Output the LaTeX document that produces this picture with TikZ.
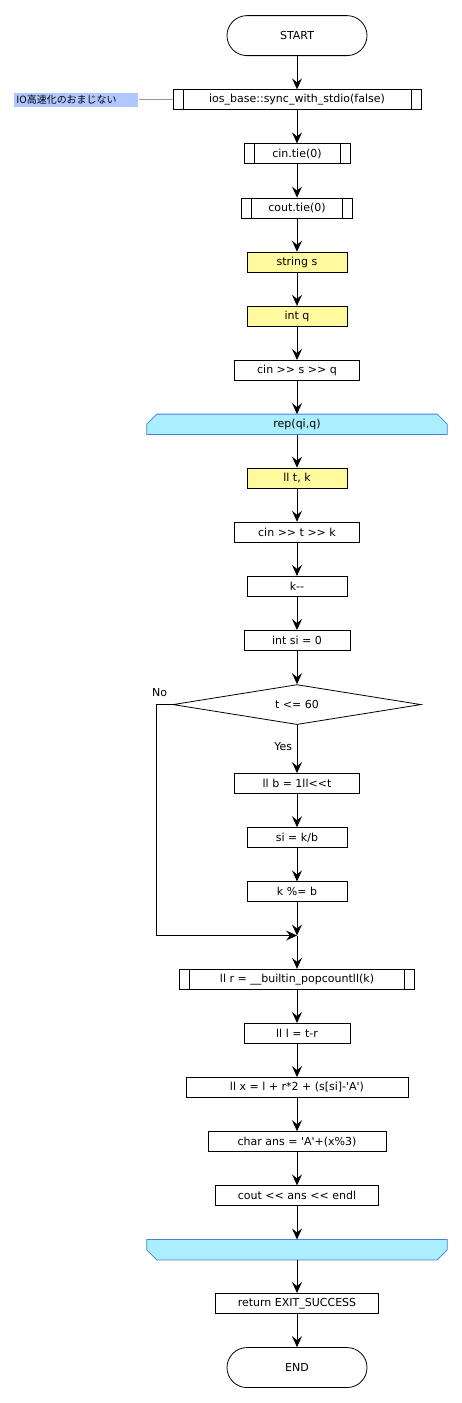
\documentclass[tikz,border=0pt]{standalone}
\usepackage{fontspec}
\setmainfont{DejaVu Sans}[Ligatures=TeXOff]
\newfontfamily\cjk{Noto Sans CJK JP}
\usetikzlibrary{arrows.meta,backgrounds,positioning,shapes.geometric}

\definecolor{declyellow}{HTML}{FFFA9E}
\definecolor{loopfill}{HTML}{AAEEFF}
\definecolor{loopedge}{HTML}{4A7FD8}
\definecolor{notefill}{HTML}{B0C8FF}
\definecolor{notelink}{HTML}{A090C0}

\begin{document}
\begin{tikzpicture}[x=1pt, y=1pt, font=\fontsize{11}{13}\selectfont,
  >={Stealth[length=11pt,width=10pt,inset=4pt]}]
\tikzstyle{terminal} = [rectangle, draw, line width=0.8pt, rounded corners=20pt,
minimum width=140pt, minimum height=40pt, inner sep=0pt]
\tikzstyle{block} = [rectangle, draw, line width=0.8pt, minimum height=20pt, inner sep=0pt]
\tikzstyle{decl} = [block, fill=declyellow]
\tikzstyle{predef} = [block, path picture={
  \draw[line width=0.8pt] ([xshift=10pt]path picture bounding box.north west) -- ([xshift=10pt]path picture bounding box.south west)
  ([xshift=-10pt]path picture bounding box.north east) -- ([xshift=-10pt]path picture bounding box.south east);}]
\tikzstyle{loopbox} = [rectangle, minimum width=300pt, minimum height=20pt, inner sep=0pt]
\tikzstyle{loopedge} = [draw=loopedge, fill=loopfill, line width=0.8pt]
\tikzstyle{decision} = [diamond, draw, line width=0.8pt, aspect=6.2,
minimum width=248pt, minimum height=40pt, inner sep=0pt]
\tikzstyle{note} = [rectangle, fill=notefill, text width=120pt, align=left,
inner sep=2pt, minimum height=14pt, font=\fontsize{10}{12}\cjk]
\tikzstyle{line} = [draw, line width=1pt, ->]

\useasboundingbox (0,0) rectangle (462,-1403);
\matrix [row sep=33.33pt, inner sep=0pt, anchor=north] at (297,-15)
{
% row 1
\node [terminal] (start) {START}; \\
% row 2
\node [predef, minimum width=248pt] (sync) {ios\_base::sync\_with\_stdio(false)}; \\
% row 3
\node [predef, minimum width=106pt] (cintie) {cin.tie(0)}; \\
% row 4
\node [predef, minimum width=111pt] (couttie) {cout.tie(0)}; \\
% row 5
\node [decl, minimum width=100pt] (decls) {string s}; \\
% row 6
\node [decl, minimum width=100pt] (declq) {int q}; \\
% row 7
\node [block, minimum width=125pt] (readsq) {cin >> s >> q}; \\
% row 8
\node [loopbox] (rep) {rep(qi,q)}; \\
% row 9
\node [decl, minimum width=100pt] (decltk) {ll t, k}; \\
% row 10
\node [block, minimum width=125pt] (readtk) {cin >> t >> k}; \\
% row 11
\node [block, minimum width=100pt] (deck) {k--}; \\
% row 12
\node [block, minimum width=106pt] (initsi) {int si = 0}; \\
% row 13
\node [decision] (decide) {t <= 60}; \\[15pt]
% row 14
\node [block, minimum width=125pt] (calcb) {ll b = 1ll<<t}; \\
% row 15
\node [block, minimum width=100pt] (calcsi) {si = k/b}; \\
% row 16
\node [block, minimum width=100pt] (modk) {k \%= b}; \\
% row 17
\coordinate (join); \\
% row 18
\node [predef, minimum width=235pt] (calcr) {ll r = \_\_builtin\_popcountll(k)}; \\
% row 19
\node [block, minimum width=106pt] (calcl) {ll l = t-r}; \\
% row 20
\node [block, minimum width=222pt] (calcx) {ll x = l + r*2 + (s[si]-'A')}; \\
% row 21
\node [block, minimum width=178pt] (calcans) {char ans = 'A'+(x\%3)}; \\
% row 22
\node [block, minimum width=163pt] (print) {cout << ans << endl}; \\
% row 23
\node [loopbox] (repend) {}; \\
% row 24
\node [block, minimum width=163pt] (ret) {return EXIT\_SUCCESS}; \\
% row 25
\node [terminal] (stop) {END}; \\
};

% comment on the left
\node [note, left=34pt of sync] (note) {IO高速化のおまじない};
\draw [notelink, line width=0.8pt] (note) -- (sync);

% loop shapes
\begin{scope}[on background layer]
\path [loopedge] (rep.south west) -- ([yshift=-10pt]rep.north west) -- ([xshift=10pt]rep.north west)
  -- ([xshift=-10pt]rep.north east) -- ([yshift=-10pt]rep.north east) -- (rep.south east) -- cycle;
\path [loopedge] (repend.north west) -- ([yshift=10pt]repend.south west) -- ([xshift=10pt]repend.south west)
  -- ([xshift=-10pt]repend.south east) -- ([yshift=10pt]repend.south east) -- (repend.north east) -- cycle;
\end{scope}

\path [line] (start) -- (sync);
\path [line] (sync) -- (cintie);
\path [line] (cintie) -- (couttie);
\path [line] (couttie) -- (decls);
\path [line] (decls) -- (declq);
\path [line] (declq) -- (readsq);
\path [line] (readsq) -- (rep);
\path [line] (rep) -- (decltk);
\path [line] (decltk) -- (readtk);
\path [line] (readtk) -- (deck);
\path [line] (deck) -- (initsi);
\path [line] (initsi) -- (decide);
\path [line] (decide) -- node [left, pos=0.45, xshift=-1pt] {Yes} (calcb);
\path [line] (decide.west) -- ++(-16,0) node [above=4pt, xshift=3pt] {No} |- (join);
\path [line] (calcb) -- (calcsi);
\path [line] (calcsi) -- (modk);
\path [line] (modk) -- (join);
\path [line] (join) -- (calcr);
\path [line] (calcr) -- (calcl);
\path [line] (calcl) -- (calcx);
\path [line] (calcx) -- (calcans);
\path [line] (calcans) -- (print);
\path [line] (print) -- (repend);
\path [line] (repend) -- (ret);
\path [line] (ret) -- (stop);

\end{tikzpicture}
\end{document}
